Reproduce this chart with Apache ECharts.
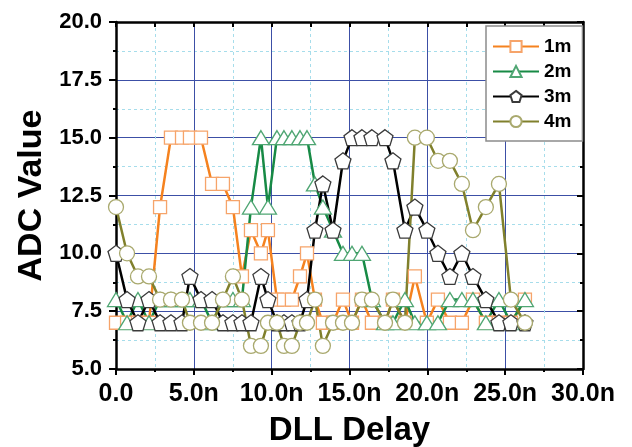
<!DOCTYPE html>
<html><head><meta charset="utf-8">
<script src="https://cdn.jsdelivr.net/npm/echarts@6/dist/echarts.min.js"></script>
<style>html,body{margin:0;padding:0;background:#fff}#c{width:632px;height:447px}</style>
</head><body><div id="c"></div>
<script>
// DLL delay (ns) of each sample
const delayNs = [0.0, 0.71, 1.41, 2.12, 2.83, 3.53, 4.24, 4.75, 5.46, 6.17, 6.87, 7.51, 8.09, 8.67, 9.31, 9.76, 10.34, 10.79, 11.30, 11.82, 12.27, 12.78, 13.29, 13.94, 14.58, 15.16, 15.80, 16.44, 17.28, 17.79, 18.56, 19.20, 19.97, 20.68, 21.45, 22.22, 22.93, 23.76, 24.60, 25.37, 26.27];
const adc1m = [7, 7, 7, 7, 12, 15, 15, 15, 15, 13, 13, 12, 9, 11, 10, 11, 8, 8, 8, 9, 10, 8, 7, 7, 8, 7, 8, 7, 7, 8, 7, 9, 7, 8, 7, 7, 8, 7, 7, 7, 8];
const adc2m = [8, 7, 8, 7, 8, 8, 8, 8, 8, 7, 8, 8, 8, 12, 15, 12, 15, 15, 15, 15, 15, 13, 12, 11, 10, 10, 10, 8, 7, 7, 8, 7, 7, 7, 8, 8, 8, 7, 8, 7, 8];
const adc3m = [10, 8, 7, 8, 7, 7, 7, 9, 8, 8, 7, 7, 7, 7, 9, 8, 7, 7, 7, 7, 8, 11, 13, 11, 14, 15, 15, 15, 15, 14, 11, 12, 11, 10, 9, 10, 9, 8, 7, 7, 7];
const adc4m = [12, 10, 9, 9, 8, 8, 8, 7, 7, 7, 8, 9, 8, 6, 6, 7, 7, 6, 6, 7, 7, 8, 6, 7, 7, 7, 8, 8, 7, 8, 7, 15, 15, 14, 14, 13, 11, 12, 13, 8, 7];
const seriesNames = ['1m', '2m', '3m', '4m'];
const xTickLabels = ['0.0', '5.0n', '10.0n', '15.0n', '20.0n', '25.0n', '30.0n'];
const yTickLabels = ['5.0', '7.5', '10.0', '12.5', '15.0', '17.5', '20.0'];

const FONT = 'Liberation Sans, Arial, sans-serif';
const pentagon = 'path://M50,0 L97.55,34.55 L79.39,90.45 L20.61,90.45 L2.45,34.55 Z';
const styles = [
  {line: '#F5821F', edge: '#F6A46A', symbol: 'rect', size: 13},
  {line: '#178A45', edge: '#4FA673', symbol: 'triangle', size: [17, 14]},
  {line: '#000000', edge: '#3A3A3A', symbol: pentagon, size: 16},
  {line: '#80802C', edge: '#A9A96E', symbol: 'circle', size: 15}
];
const allData = [adc1m, adc2m, adc3m, adc4m];

const chart = echarts.init(document.getElementById('c'));
const axisLine = {show: true, onZero: false, lineStyle: {color: '#000', width: 2.5}};
const majorGrid = {show: true, lineStyle: {color: '#3C4FA6', width: 1, type: 'solid'}};
const minorGrid = {show: true, lineStyle: {color: '#A6DDEB', width: 1, type: [3, 3]}};

chart.setOption({
  animation: false,
  backgroundColor: '#fff',
  grid: {left: 116, right: 49, top: 22, bottom: 78, containLabel: false, outerBoundsMode: 'none'},
  legend: {
    orient: 'vertical', left: 486, top: 26,
    backgroundColor: '#fff', borderColor: '#8C8C8C', borderWidth: 1.5, borderRadius: 0,
    padding: [11, 11, 10, 6],
    itemWidth: 46, itemHeight: 14, itemGap: 6,
    textStyle: {fontFamily: FONT, fontSize: 19, fontWeight: 'bold', color: '#000'},
    data: seriesNames
  },
  xAxis: [{
    type: 'value', min: 0, max: 30, interval: 5, position: 'bottom',
    name: 'DLL Delay', nameLocation: 'middle', nameGap: 45,
    nameTextStyle: {fontFamily: FONT, fontSize: 33, fontWeight: 'bold', color: '#000'},
    axisLine: axisLine,
    axisTick: {show: true, inside: false, length: 6, lineStyle: {color: '#000', width: 2}},
    minorTick: {show: true, splitNumber: 2, length: 3, lineStyle: {color: '#000', width: 2}},
    splitLine: majorGrid, minorSplitLine: minorGrid,
    axisLabel: {fontFamily: FONT, fontSize: 25, fontWeight: 'bold', color: '#000', margin: 13,
      formatter: v => xTickLabels[Math.round(v / 5)]}
  }, {
    type: 'value', min: 0, max: 30, interval: 5, position: 'top',
    axisLine: axisLine,
    axisTick: {show: true, inside: true, length: 5, lineStyle: {color: '#000', width: 2}},
    minorTick: {show: true, splitNumber: 2, length: 5, lineStyle: {color: '#000', width: 2}},
    splitLine: {show: false}, axisLabel: {show: false}
  }],
  yAxis: [{
    type: 'value', min: 5, max: 20, interval: 2.5, position: 'left',
    name: 'ADC Value', nameLocation: 'middle', nameGap: 66,
    nameTextStyle: {fontFamily: FONT, fontSize: 34, fontWeight: 'bold', color: '#000'},
    axisLine: axisLine,
    axisTick: {show: true, inside: false, length: 7, lineStyle: {color: '#000', width: 2}},
    minorTick: {show: true, splitNumber: 2, length: 3, lineStyle: {color: '#000', width: 2}},
    splitLine: majorGrid, minorSplitLine: minorGrid,
    axisLabel: {fontFamily: FONT, fontSize: 22, fontWeight: 'bold', color: '#000', margin: 14,
      formatter: v => yTickLabels[Math.round((v - 5) / 2.5)]}
  }, {
    type: 'value', min: 5, max: 20, interval: 2.5, position: 'right',
    axisLine: axisLine,
    axisTick: {show: true, inside: true, length: 6, lineStyle: {color: '#000', width: 2}},
    minorTick: {show: true, splitNumber: 2, length: 3, lineStyle: {color: '#000', width: 2}},
    splitLine: {show: false}, axisLabel: {show: false}
  }],
  series: seriesNames.map((name, k) => ({
    name: name, type: 'line', xAxisIndex: 0, yAxisIndex: 0,
    data: delayNs.map((x, i) => [x, allData[k][i]]),
    symbol: styles[k].symbol, symbolSize: styles[k].size, showAllSymbol: true,
    lineStyle: {color: styles[k].line, width: 2.5},
    itemStyle: {color: '#fff', borderColor: styles[k].edge, borderWidth: 1.3},
    emphasis: {disabled: true}
  }))
});
</script></body></html>
